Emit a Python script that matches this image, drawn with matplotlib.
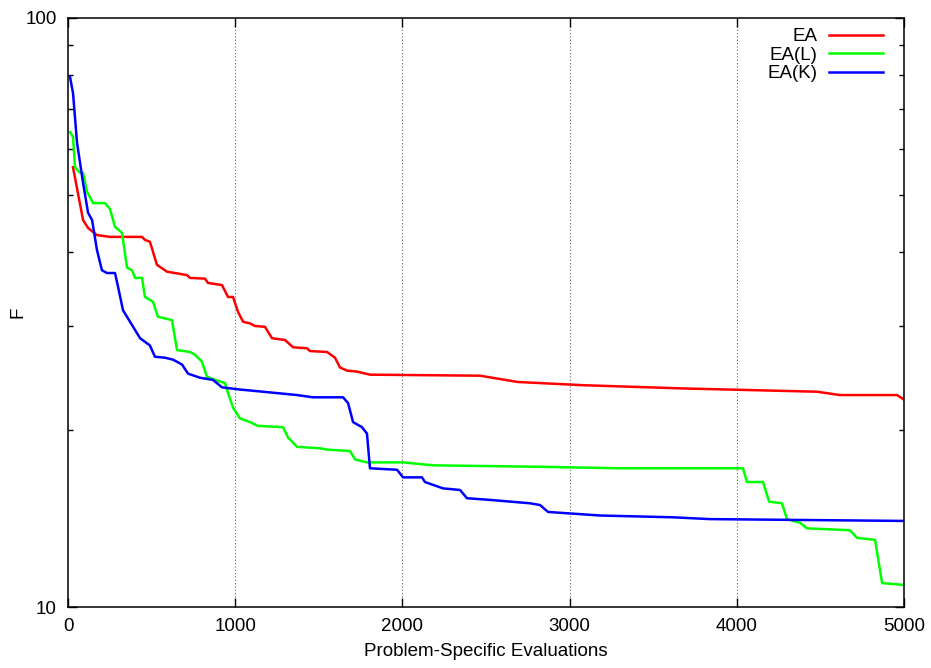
"""
Convergence of F vs. problem-specific evaluations
for EA, EA(L) and EA(K), gnuplot-ish look.
"""
import matplotlib; matplotlib.use('Agg')
import matplotlib.pyplot as plt
from matplotlib.ticker import LogLocator, NullFormatter, FixedLocator


# data
EA_X = [30, 90, 120, 173, 251, 443, 460, 490, 532, 592, 712, 730, 819, 837,
        921, 957, 987, 1017, 1047, 1089, 1118, 1178, 1220, 1298, 1346, 1429,
        1447, 1549, 1597, 1627, 1669, 1728, 1806, 2464, 2691, 3080, 3678,
        3947, 4480, 4617, 4958, 5000]
EA_F = [55.8, 45.4, 44.0, 42.8, 42.5, 42.5, 42.0, 41.7, 38.1, 37.1, 36.6,
        36.2, 36.1, 35.5, 35.2, 33.6, 33.6, 31.7, 30.5, 30.3, 30.0, 29.9,
        28.6, 28.4, 27.6, 27.5, 27.2, 27.1, 26.5, 25.5, 25.2, 25.1, 24.8,
        24.7, 24.1, 23.8, 23.5, 23.4, 23.2, 22.9, 22.9, 22.5]

EAL_X = [12, 30, 42, 72, 90, 114, 150, 221, 251, 281, 323, 353, 383, 401,
         443, 460, 508, 538, 622, 652, 730, 760, 801, 831, 879, 939, 957,
         987, 1029, 1089, 1136, 1286, 1316, 1370, 1507, 1549, 1687, 1717,
         1788, 2004, 2183, 2823, 3302, 4037, 4061, 4157, 4193, 4270, 4300,
         4378, 4420, 4677, 4719, 4827, 4869, 5000]
EAL_F = [64.0, 62.8, 55.8, 54.6, 54.6, 50.7, 48.5, 48.5, 47.4, 44.2, 43.2,
         37.7, 37.3, 36.2, 36.2, 33.6, 33.0, 31.1, 30.7, 27.3, 27.1, 26.8,
         26.1, 24.6, 24.3, 24.0, 23.1, 21.8, 20.9, 20.6, 20.3, 20.2, 19.4,
         18.7, 18.6, 18.5, 18.4, 17.8, 17.6, 17.6, 17.4, 17.3, 17.2, 17.2,
         16.3, 16.3, 15.1, 15.0, 14.1, 13.9, 13.6, 13.5, 13.1, 13.0, 10.98,
         10.9]

EAK_X = [12, 30, 54, 90, 120, 144, 173, 203, 233, 281, 299, 329, 371, 431,
         490, 520, 580, 628, 682, 718, 790, 867, 921, 1029, 1166, 1370, 1465,
         1645, 1675, 1705, 1758, 1788, 1806, 1968, 2004, 2117, 2135, 2243,
         2345, 2386, 2524, 2763, 2823, 2871, 3182, 3618, 3840, 5000]
EAK_F = [79.4, 74.6, 61.4, 52.5, 46.7, 45.4, 40.4, 37.3, 36.9, 36.9, 35.0,
         31.9, 30.5, 28.6, 27.8, 26.6, 26.5, 26.3, 25.8, 24.9, 24.5, 24.3,
         23.6, 23.4, 23.2, 22.9, 22.7, 22.7, 22.2, 20.6, 20.2, 19.7, 17.2,
         17.1, 16.6, 16.6, 16.3, 15.9, 15.8, 15.3, 15.2, 15.0, 14.9, 14.5,
         14.3, 14.2, 14.1, 14.0]

X_TICKS = [0, 1000, 2000, 3000, 4000, 5000]
Y_TICKS = [10, 100]

plt.rcParams['font.family'] = ['Liberation Sans', 'DejaVu Sans']
plt.rcParams['font.size'] = 13.5

fig = plt.figure(figsize=(9.31, 6.68), dpi=100)
ax = fig.add_axes([68/931, 61/668, 836/931, 589/668])

ax.plot(EA_X, EA_F, color='#ff0000', lw=1.8, label='EA')
ax.plot(EAL_X, EAL_F, color='#00ff00', lw=1.8, label='EA(L)')
ax.plot(EAK_X, EAK_F, color='#0000ff', lw=1.8, label='EA(K)')

# axes
ax.set_yscale('log')
ax.set_xlim(0, 5000)
ax.set_ylim(10, 100)
ax.set_xticks(X_TICKS)
ax.set_xticklabels([str(t) for t in X_TICKS])
ax.yaxis.set_major_locator(FixedLocator(Y_TICKS))
ax.set_yticklabels([str(t) for t in Y_TICKS])
ax.yaxis.set_minor_locator(LogLocator(base=10, subs=range(2, 10)))
ax.yaxis.set_minor_formatter(NullFormatter())

ax.tick_params(which='both', direction='in', top=True, right=True, width=1)
ax.tick_params(which='major', length=6.5)
ax.tick_params(which='minor', length=3.3)
ax.tick_params(axis='x', which='major', pad=8)
ax.tick_params(axis='y', which='major', pad=8)
for sp in ax.spines.values():
    sp.set_linewidth(1.1)

# dotted vertical grid, interior ticks only
for xt in X_TICKS[1:-1]:
    ax.axvline(xt, color='#666666', lw=0.8, linestyle=(0, (1, 2)), zorder=0)

ax.set_xlabel('Problem-Specific Evaluations', labelpad=6)
ax.set_ylabel('F', labelpad=-1)

ax.legend(loc='upper right', bbox_to_anchor=(883/931, 640/668),
          bbox_transform=fig.transFigure, frameon=False, markerfirst=False,
          handlelength=2.9, handletextpad=0.6, labelspacing=0.08,
          borderpad=0, borderaxespad=0)

plt.savefig('out.png', dpi=100)
plt.close()
